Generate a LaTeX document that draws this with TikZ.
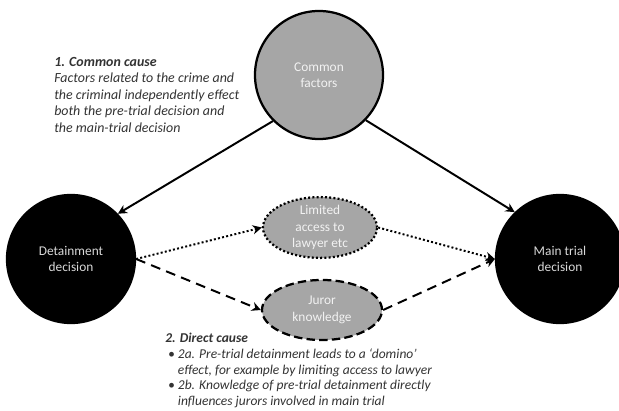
\documentclass[tikz,border=0pt]{standalone}
\usepackage{fontspec}
\setmainfont{Carlito}
\usepackage{xcolor}
\usetikzlibrary{arrows.meta,shapes.geometric}
\definecolor{factgray}{HTML}{A6A6A6}
\definecolor{notegray}{HTML}{333333}

\begin{document}
\begin{tikzpicture}[x=0.025cm,y=-0.025cm,font=\fontsize{9.5}{11.6}\selectfont,
  decision/.style={circle,fill=black,draw=black,line width=1.6pt,minimum size=3.2cm,inner sep=0pt,align=center,text=black!15},
  factor/.style={circle,fill=factgray,draw=black,line width=1.6pt,minimum size=3.2cm,inner sep=0pt,align=center,text=black!5},
  route/.style={ellipse,fill=factgray,draw=black,line width=1.6pt,inner sep=-6pt,align=center,text=black!5},
  cause/.style={line width=1.4pt,-{Stealth[length=6.5pt,width=6.5pt]}},
  note/.style={anchor=north west,inner sep=0pt,align=left,text=notegray}]
\useasboundingbox (0,0) rectangle (619,411);
% the three decisions
\node[factor] (common) at (319,75) {Common\\factors};
\node[decision] (detain) at (71,259) {Detainment\\decision};
\node[decision] (maintrial) at (560,259) {Main trial\\decision};
% routes of the direct cause
\node[route,dash pattern=on 1.4pt off 1.6pt,minimum width=2.85cm,minimum height=1.52cm] (lawyer) at (320,227.5) {Limited\\access to\\lawyer etc};
\node[route,dash pattern=on 6pt off 3pt,minimum width=3cm,minimum height=1.5cm] (juror) at (322,310) {Juror\\knowledge};
% arrows
\draw[cause] (common.225) -- (detain.44);
\draw[cause] (common.316) -- (maintrial.134);
\draw[cause,dash pattern=on 1.4pt off 1.6pt] (detain.east) -- (lawyer.west);
\draw[cause,dash pattern=on 1.4pt off 1.6pt] (lawyer.east) -- (maintrial.west);
\draw[cause,dash pattern=on 7pt off 4.5pt] (detain.east) -- (juror.west);
\draw[cause,dash pattern=on 7pt off 4.5pt] (juror.east) -- (maintrial.west);
% explanations
\node[note,font=\fontsize{9.9}{11.7}\selectfont\itshape] (commonnote) at (54,57) {\textbf{1. Common cause}\\Factors related to the crime and\\the criminal independently effect\\both the pre-trial decision and\\the main-trial decision};
\node[note,font=\fontsize{9.6}{11.2}\selectfont\itshape] (directnote) at (165,333) {\textbf{2. Direct cause}\\
\hspace*{2pt}\makebox[7pt][l]{\textbullet}2a. Pre-trial detainment leads to a ‘domino’\\
\hspace*{9pt}effect, for example by limiting access to lawyer\\
\hspace*{2pt}\makebox[7pt][l]{\textbullet}2b. Knowledge of pre-trial detainment directly\\
\hspace*{9pt}influences jurors involved in main trial};
\end{tikzpicture}
\end{document}
